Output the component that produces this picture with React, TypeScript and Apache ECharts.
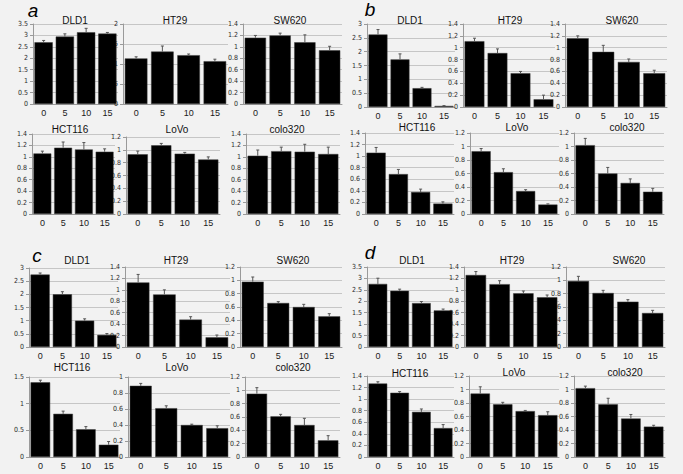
import { useEffect, useRef } from "react";
import * as echarts from "echarts";

// ---------- data ----------
const panelLetters = ["a", "b", "c", "d"];
const cellLines = ["DLD1", "HT29", "SW620", "HCT116", "LoVo", "colo320"];
const doses = ["0", "5", "10", "15"];

const meanA = [
  [2.7, 2.95, 3.14, 3.08],
  [1.14, 1.31, 1.22, 1.07],
  [1.16, 1.2, 1.08, 0.94],
  [1.06, 1.16, 1.13, 1.09],
  [0.93, 1.07, 0.94, 0.85],
  [1.02, 1.1, 1.09, 1.05],
];
const errA = [
  [0.08, 0.12, 0.17, 0.05],
  [0.04, 0.14, 0.03, 0.05],
  [0.04, 0.04, 0.13, 0.07],
  [0.04, 0.1, 0.12, 0.05],
  [0.05, 0.03, 0.02, 0.04],
  [0.1, 0.07, 0.13, 0.12],
];
const meanB = [
  [2.62, 1.72, 0.68, 0.04],
  [1.11, 0.91, 0.57, 0.13],
  [1.16, 0.93, 0.76, 0.57],
  [1.06, 0.69, 0.38, 0.18],
  [0.93, 0.62, 0.34, 0.14],
  [1.02, 0.6, 0.46, 0.33],
];
const errB = [
  [0.18, 0.2, 0.03, 0.01],
  [0.05, 0.07, 0.03, 0.07],
  [0.04, 0.11, 0.05, 0.05],
  [0.09, 0.08, 0.05, 0.03],
  [0.04, 0.05, 0.02, 0.01],
  [0.1, 0.09, 0.06, 0.05],
];
const meanC = [
  [2.75, 2.0, 1.0, 0.46],
  [1.13, 0.92, 0.48, 0.17],
  [0.98, 0.66, 0.6, 0.46],
  [1.4, 0.81, 0.52, 0.23],
  [0.89, 0.61, 0.4, 0.36],
  [0.95, 0.61, 0.48, 0.25],
];
const errC = [
  [0.06, 0.1, 0.07, 0.05],
  [0.14, 0.08, 0.05, 0.04],
  [0.07, 0.02, 0.04, 0.04],
  [0.04, 0.05, 0.05, 0.06],
  [0.03, 0.03, 0.01, 0.03],
  [0.09, 0.03, 0.1, 0.07],
];
const meanD = [
  [2.76, 2.46, 1.92, 1.6],
  [1.26, 1.1, 0.94, 0.87],
  [0.99, 0.81, 0.68, 0.51],
  [1.27, 1.11, 0.78, 0.5],
  [0.94, 0.78, 0.68, 0.62],
  [1.02, 0.78, 0.57, 0.45],
];
const errD = [
  [0.25, 0.07, 0.07, 0.06],
  [0.06, 0.06, 0.04, 0.04],
  [0.07, 0.04, 0.03, 0.04],
  [0.03, 0.02, 0.05, 0.06],
  [0.1, 0.03, 0.01, 0.05],
  [0.03, 0.09, 0.06, 0.02],
];

const yMaxA = [3.5, 2, 1.4, 1.4, 1.2, 1.4];
const yStepA = [0.5, 0.5, 0.2, 0.2, 0.2, 0.2];
const yMaxB = [3, 1.4, 1.4, 1.4, 1.2, 1.2];
const yStepB = [0.5, 0.2, 0.2, 0.2, 0.2, 0.2];
const yMaxC = [3, 1.4, 1.2, 1.5, 1, 1.2];
const yStepC = [0.5, 0.2, 0.2, 0.5, 0.2, 0.2];
const yMaxD = [3.5, 1.4, 1.2, 1.4, 1.2, 1.2];
const yStepD = [0.5, 0.2, 0.2, 0.2, 0.2, 0.2];

// ---------- layout (pixels) ----------
// [left, top, right, bottom, titleX, titleY]
const layoutA = [
  [33, 24, 118, 104, 75, 20],
  [123, 24, 228, 104, 175, 20],
  [243, 24, 342, 104, 290, 20],
  [32, 134, 115, 214, 70, 129],
  [126, 137, 220, 214, 177, 129],
  [246, 134, 340, 214, 287, 129],
];
const layoutB = [
  [367, 24, 455, 107, 410, 20],
  [463, 24, 555, 107, 510, 20],
  [565, 24, 667, 107, 622, 20],
  [365, 133, 454, 214, 417, 127],
  [470, 133, 559, 214, 517, 127],
  [574, 133, 664, 214, 627, 127],
];
const layoutC = [
  [29, 268, 118, 347, 77, 260],
  [125, 267, 230, 347, 176, 260],
  [240, 267, 342, 347, 293, 260],
  [29, 377, 120, 457, 72, 367],
  [128, 377, 230, 457, 177, 367],
  [245, 377, 340, 457, 293, 367],
];
const layoutD = [
  [367, 267, 454, 347, 412, 260],
  [464, 267, 559, 347, 512, 260],
  [566, 267, 665, 347, 629, 260],
  [367, 376, 454, 457, 410, 373],
  [469, 376, 559, 457, 514, 372],
  [574, 376, 665, 457, 625, 372],
];
const letterPos = [
  [33, 10],
  [370, 9],
  [37, 255],
  [370, 252],
];

const FONT = "'Liberation Sans', Arial, sans-serif";
const NARROW = "'Liberation Sans Narrow', 'DejaVu Sans Condensed', 'Liberation Sans', sans-serif";

export default function App() {
  const ref = useRef<HTMLDivElement>(null);

  useEffect(() => {
    document.body.style.margin = "0";
    if (!ref.current) return;
    const chart = echarts.init(ref.current, undefined, { renderer: "svg" });

    const means = [meanA, meanB, meanC, meanD];
    const errs = [errA, errB, errC, errD];
    const maxes = [yMaxA, yMaxB, yMaxC, yMaxD];
    const steps = [yStepA, yStepB, yStepC, yStepD];
    const layouts = [layoutA, layoutB, layoutC, layoutD];

    const grids: any[] = [];
    const xAxes: any[] = [];
    const yAxes: any[] = [];
    const series: any[] = [];
    const graphics: any[] = [];

    let idx = 0;
    for (let p = 0; p < 4; p++) {
      for (let c = 0; c < 6; c++) {
        const [l, t, r, b, tx, ty] = layouts[p][c];
        grids.push({ left: l, top: t, width: r - l, height: b - t });
        xAxes.push({
          type: "category",
          gridIndex: idx,
          data: doses,
          axisLine: { lineStyle: { color: "#9a9a9a", width: 1 } },
          axisTick: { length: 3, lineStyle: { color: "#9a9a9a" } },
          axisLabel: { fontSize: 9, color: "#1a1a1a", margin: 4, interval: 0, fontFamily: FONT },
        });
        yAxes.push({
          type: "value",
          gridIndex: idx,
          min: 0,
          max: maxes[p][c],
          interval: steps[p][c],
          axisLine: { show: true, lineStyle: { color: "#9a9a9a", width: 1 } },
          axisTick: { show: true, length: 3, lineStyle: { color: "#9a9a9a" } },
          splitLine: { show: true, lineStyle: { color: "#c6c6c6", width: 1 } },
          axisLabel: { fontSize: 7, color: "#2a2a2a", margin: 5, fontFamily: NARROW },
        });
        const m = means[p][c];
        const e = errs[p][c];
        series.push({
          type: "bar",
          xAxisIndex: idx,
          yAxisIndex: idx,
          data: m,
          barCategoryGap: "14%",
          itemStyle: { color: "#000000", borderColor: "#3a3a3a", borderWidth: 0.5 },
          z: 2,
        });
        series.push({
          type: "custom",
          xAxisIndex: idx,
          yAxisIndex: idx,
          data: m.map((v, j) => [j, v, v + e[j]]),
          encode: { x: 0, y: 1 },
          z: 3,
          renderItem: (_params: any, api: any) => {
            const base = api.coord([api.value(0), api.value(1)]);
            const top = api.coord([api.value(0), api.value(2)]);
            return {
              type: "group",
              children: [
                {
                  type: "line",
                  shape: { x1: base[0], y1: base[1], x2: base[0], y2: top[1] },
                  style: { stroke: "#555", lineWidth: 1 },
                },
                {
                  type: "line",
                  shape: { x1: base[0] - 1.5, y1: top[1], x2: base[0] + 1.5, y2: top[1] },
                  style: { stroke: "#555", lineWidth: 1 },
                },
              ],
            };
          },
        });
        graphics.push({
          type: "text",
          x: tx,
          y: ty,
          z: 10,
          style: {
            text: cellLines[c],
            fill: "#111",
            font: `10px ${FONT}`,
            textAlign: "center",
            textVerticalAlign: "middle",
          },
        });
        idx++;
      }
      graphics.push({
        type: "text",
        x: letterPos[p][0],
        y: letterPos[p][1],
        z: 10,
        style: {
          text: panelLetters[p],
          fill: "#000",
          font: `italic 19px ${FONT}`,
          textAlign: "center",
          textVerticalAlign: "middle",
        },
      });
    }

    chart.setOption({
      animation: false,
      backgroundColor: "#f2f2f2",
      grid: grids,
      xAxis: xAxes,
      yAxis: yAxes,
      series,
      graphic: graphics,
    });

    return () => chart.dispose();
  }, []);

  return <div ref={ref} style={{ width: 683, height: 474 }} />;
}
